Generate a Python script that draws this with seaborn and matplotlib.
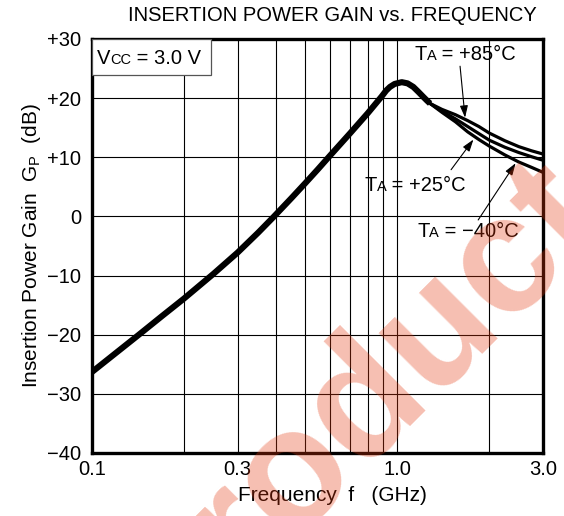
import pandas as pd
import matplotlib
matplotlib.use("Agg")
import matplotlib.pyplot as plt
from matplotlib.ticker import FixedLocator, NullFormatter
from matplotlib.offsetbox import TextArea, HPacker, AnnotationBbox
from matplotlib.patches import Rectangle
import seaborn as sns

# ---- data -------------------------------------------------------------
# shared part of the gain curve (all temperatures coincide here)
freq_common = [0.10, 0.12, 0.142, 0.17, 0.20, 0.25, 0.30, 0.35, 0.393,
               0.45, 0.50, 0.55, 0.60, 0.70, 0.80, 0.86, 0.889, 0.92,
               0.946, 0.98, 1.034, 1.08, 1.128, 1.17, 1.217, 1.25, 1.28]
gain_common = [-26.3, -23.05, -20.05, -16.8, -13.9, -9.7, -6.1, -2.75, -0.1,
               3.1, 5.65, 8.0, 10.2, 14.05, 17.45, 19.4, 20.3, 21.3,
               21.9, 22.4, 22.7, 22.5, 21.9, 21.1, 20.2, 19.6, 19.1]

# high-frequency branches per ambient temperature
freq_branch = [1.28, 1.4, 1.55, 1.7, 1.85, 2.0, 2.25, 2.5, 2.75, 3.0]
gain_85 = [19.1, 18.1, 17.2, 16.2, 15.2, 14.1, 12.8, 11.8, 11.1, 10.55]
gain_25 = [19.1, 17.8, 16.5, 15.2, 14.0, 12.9, 11.7, 10.8, 10.1, 9.5]
gain_m40 = [19.1, 17.6, 16.0, 14.3, 13.0, 11.9, 10.4, 9.2, 8.3, 7.45]

# annotation labels: (main, subscript, rest)
temp_labels = [("T", "A", " = +85°C"),
               ("T", "A", " = +25°C"),
               ("T", "A", " = \u221240°C")]
label_xy = [(1.667, 27.3), (1.143, 5.3), (1.704, -2.5)]
arrow_tail = [(1.605, 25.4), (1.50, 7.9), (1.84, -0.6)]
arrow_tip = [(1.667, 16.7), (1.775, 13.0), (2.44, 9.0)]

x_ticks = [0.1, 0.3, 1.0, 3.0]
x_ticklabels = ["0.1", "0.3", "1.0", "3.0"]
x_grid = [0.2, 0.4, 0.5, 0.6, 0.7, 0.8, 0.9, 2.0]
y_ticks = [-40, -30, -20, -10, 0, 10, 20, 30]
y_ticklabels = ["\u221240", "\u221230", "\u221220", "\u221210", "0",
                "+10", "+20", "+30"]

# ---- style ------------------------------------------------------------
sns.set_theme(style="white")
plt.rcParams["font.family"] = ["Liberation Sans", "DejaVu Sans"]
plt.rcParams["mathtext.fontset"] = "custom"
plt.rcParams["mathtext.rm"] = "Liberation Sans"
plt.rcParams["mathtext.it"] = "Liberation Sans:italic"

FS = 14.5
SUB = 10.5

fig = plt.figure(figsize=(5.64, 5.16), dpi=100)
ax = fig.add_axes([92 / 564, 1 - 453 / 516, 451 / 564, 414 / 516])

common = pd.DataFrame({"f": freq_common, "g": gain_common})
branches = pd.concat([
    pd.DataFrame({"f": freq_branch, "g": gain_85, "T": "+85"}),
    pd.DataFrame({"f": freq_branch, "g": gain_25, "T": "+25"}),
    pd.DataFrame({"f": freq_branch, "g": gain_m40, "T": "-40"}),
])

sns.lineplot(data=branches, x="f", y="g", units="T", estimator=None,
             color="black", lw=2.3, ax=ax, zorder=3,
             solid_joinstyle="round")
sns.lineplot(data=common, x="f", y="g", color="black", lw=4.4, ax=ax,
             zorder=4, solid_joinstyle="round", solid_capstyle="butt")

ax.set_xscale("log")
ax.set_xlim(0.1, 3.0)
ax.set_ylim(-40, 30)
ax.xaxis.set_major_locator(FixedLocator(x_ticks))
ax.set_xticklabels(x_ticklabels)
ax.xaxis.set_minor_locator(FixedLocator(x_grid))
ax.xaxis.set_minor_formatter(NullFormatter())
ax.set_yticks(y_ticks)
ax.set_yticklabels(y_ticklabels)
ax.tick_params(which="both", length=0, labelsize=FS, colors="black")
ax.tick_params(axis="x", pad=5)
ax.tick_params(axis="y", pad=8)
ax.grid(True, which="both", color="black", lw=0.8)
for s in ax.spines.values():
    s.set_linewidth(2.4)
    s.set_color("black")

ax.set_xlabel("Frequency  f   (GHz)", fontsize=15, color="black",
              labelpad=5, x=0.534)
ax.set_ylabel("Insertion Power Gain  G$_\\mathregular{P}$  (dB)", fontsize=15,
              color="black", labelpad=3)
fig.text(0.589, 0.970, "INSERTION POWER GAIN vs. FREQUENCY", ha="center",
         va="center", fontsize=FS, color="black")


def subscript_label(main, sub, rest):
    """Text with a small, baseline-aligned subscript."""
    parts = [TextArea(main, textprops=dict(size=FS, color="black")),
             TextArea(sub, textprops=dict(size=SUB, color="black")),
             TextArea(rest, textprops=dict(size=FS, color="black"))]
    return HPacker(children=parts, align="baseline", pad=0, sep=0)


# supply-voltage box in the upper-left corner
ax.add_patch(Rectangle((0, 1 - 36 / 414), 119 / 451, 36 / 414,
                       transform=ax.transAxes, fc="white", ec="#555555",
                       lw=0.9, zorder=5))
vcc = AnnotationBbox(subscript_label("V", "CC", " = 3.0 V"),
                     (5 / 451, 1 - 19 / 414), xycoords="axes fraction",
                     box_alignment=(0, 0.5), frameon=False, pad=0, zorder=6)
ax.add_artist(vcc)

arrow = dict(arrowstyle="-|>,head_length=0.6,head_width=0.2", color="black",
             lw=0.8, shrinkA=0, shrinkB=0)
for (m, s, r), xy, tail, tip in zip(temp_labels, label_xy, arrow_tail,
                                    arrow_tip):
    ab = AnnotationBbox(subscript_label(m, s, r), xy, xycoords="data",
                        frameon=False, box_alignment=(0.5, 0.5), zorder=6)
    ax.add_artist(ab)
    ax.annotate("", xy=tip, xytext=tail, arrowprops=arrow, zorder=6)

# translucent watermark over the plot
fig.text(0.301, -0.271, "product", rotation=45, rotation_mode="anchor",
         ha="left", va="baseline", fontsize=120, fontweight="bold",
         color=(0.89, 0.22, 0.05), alpha=0.32, zorder=20)

fig.savefig("out.png", dpi=100)
